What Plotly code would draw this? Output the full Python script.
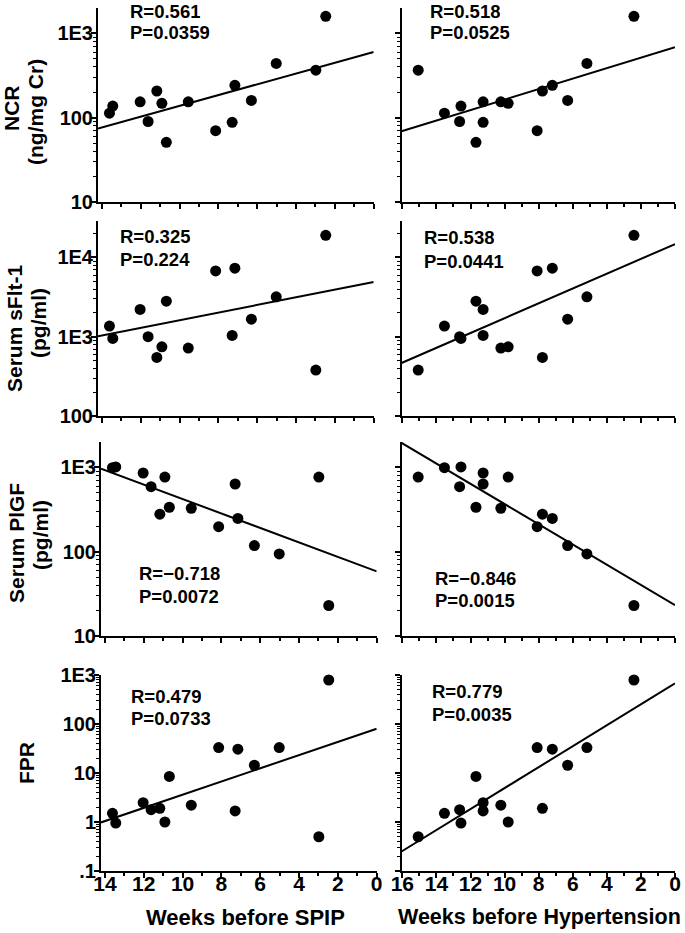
import plotly.graph_objects as go

# ---------------- data ----------------
# one entry per patient
weeks_spip = [13.61, 13.44, 12.03, 11.62, 11.17, 10.91, 10.68, 9.55, 8.14, 7.29, 7.15, 6.30, 5.02, 2.98, 2.47]
weeks_htn = [13.53, 12.56, 11.26, 12.64, 7.78, 9.79, 11.68, 10.22, 8.09, 11.26, 7.20, 6.30, 5.17, 15.07, 2.41]
ncr = [113, 137, 154, 90, 207, 148, 51, 154, 70, 88, 242, 160, 439, 365, 1590]
sflt = [1361, 951, 2209, 1000, 548, 746, 2811, 719, 6771, 1038, 7320, 1667, 3183, 380, 19050]
plgf = [990, 1010, 856, 589, 278, 767, 336, 327, 198, 634, 248, 118, 94, 767, 23]
fpr = [1.50, 0.95, 2.48, 1.78, 1.90, 1.00, 8.5, 2.2, 33.0, 1.68, 30.6, 14.4, 33.0, 0.50, 791]

row_titles = [["NCR", "(ng/mg Cr)"], ["Serum sFlt-1", "(pg/ml)"], ["Serum PlGF", "(pg/ml)"], ["FPR"]]
x_titles = ["Weeks before SPIP", "Weeks before Hypertension"]

r_spip = ["R=0.561", "R=0.325", "R=\u22120.718", "R=0.479"]
p_spip = ["P=0.0359", "P=0.224", "P=0.0072", "P=0.0733"]
r_htn = ["R=0.518", "R=0.538", "R=\u22120.846", "R=0.779"]
p_htn = ["P=0.0525", "P=0.0441", "P=0.0015", "P=0.0035"]

# regression line values at the start (earliest week) and at week 0
fit_spip_start = [74.5, 1014, 966, 0.98]
fit_spip_end = [601, 4890, 58.3, 80.2]
fit_htn_start = [69, 466, 1950, 0.25]
fit_htn_end = [682, 14750, 23.2, 676]

y_ranges = [[1, 3.3], [2, 4.46], [1, 3.3], [-1, 3]]
y_tickvals = [[10, 100, 1000], [100, 1000, 10000], [10, 100, 1000], [0.1, 1, 10, 100, 1000]]
y_ticktext = [["10", "100", "1E3"], ["100", "1E3", "1E4"], ["10", "100", "1E3"], [".1", "1", "10", "100", "1E3"]]
x_ticks = [0, 2, 4, 6, 8, 10, 12, 14, 16]

# ---------------- layout geometry (pixels) ----------------
W, H = 685, 933
FONT = "Liberation Sans, Arial, Helvetica, sans-serif"


def px_x(v):
    return v / W


def px_y(v):
    return 1 - v / H


row_px = [(8, 202), (221, 416), (442, 636), (675, 871)]
col_px = [[(98, 373.7), (98, 373.7), (101, 376.7), (101, 376.7)],
          [(401.5, 675)] * 4]
x_ranges = [[14.2, 0], [16.05, 0]]

series = [ncr, sflt, plgf, fpr]
weeks = [weeks_spip, weeks_htn]
fit_start = [fit_spip_start, fit_htn_start]
fit_end = [fit_spip_end, fit_htn_end]
r_txt = [r_spip, r_htn]
p_txt = [p_spip, p_htn]

fig = go.Figure()
layout = dict(
    width=W, height=H, margin=dict(l=0, r=0, t=0, b=0, autoexpand=False),
    paper_bgcolor="white", plot_bgcolor="white", showlegend=False,
    font=dict(family=FONT, color="black"),
)
annotations = []

# positions of stats text: (left x, R centre y, P centre y)
stat_pos = [
    [(128, 11, 32.5), (428, 11, 32.5)],
    [(118, 236, 259), (422, 237, 261)],
    [(137, 573, 596), (433, 578, 600)],
    [(129, 696, 718), (430, 691, 714)],
]

for r in range(4):
    for c in range(2):
        idx = r * 2 + c + 1
        xa = "x" if idx == 1 else f"x{idx}"
        ya = "y" if idx == 1 else f"y{idx}"
        x0, x1 = col_px[c][r]
        y0, y1 = row_px[r]
        fig.add_trace(go.Scatter(
            x=weeks[c], y=series[r], mode="markers", xaxis=xa, yaxis=ya,
            marker=dict(size=11, color="black"), hoverinfo="skip", cliponaxis=False))
        fig.add_trace(go.Scatter(
            x=[x_ranges[c][0], x_ranges[c][1]], y=[fit_start[c][r], fit_end[c][r]],
            mode="lines", xaxis=xa, yaxis=ya,
            line=dict(color="black", width=2), hoverinfo="skip"))
        layout["xaxis" if idx == 1 else f"xaxis{idx}"] = dict(
            domain=[px_x(x0), px_x(x1)], anchor=ya, range=x_ranges[c], automargin=False,
            showline=True, linewidth=2, linecolor="black",
            ticks="outside", ticklen=5, tickwidth=1.5, tickcolor="black",
            tickmode="array", tickvals=x_ticks, ticktext=[str(v) for v in x_ticks],
            minor=dict(ticks="outside", ticklen=3, tickwidth=1.5, tickcolor="black",
                       dtick=1, tick0=0, showgrid=False),
            showgrid=False, zeroline=False, showticklabels=(r == 3),
            ticklabelstandoff=-12,
            tickfont=dict(size=21, family=FONT, color="black", weight="bold"),
            fixedrange=True,
        )
        layout["yaxis" if idx == 1 else f"yaxis{idx}"] = dict(
            domain=[px_y(y1), px_y(y0)], anchor=xa, type="log", range=y_ranges[r], automargin=False,
            showline=True, linewidth=2, linecolor="black",
            ticks="outside", ticklen=5, tickwidth=1.5, tickcolor="black",
            tickmode="array", tickvals=y_tickvals[r], ticktext=y_ticktext[r],
            minor=dict(ticks="outside", ticklen=3, tickwidth=1, tickcolor="black",
                       dtick="D1", showgrid=False),
            showgrid=False, zeroline=False, showticklabels=(c == 0),
            ticklabelstandoff=-6,
            tickfont=dict(size=20, family=FONT, color="black", weight="bold"),
            fixedrange=True,
        )
        sx, ry, py = stat_pos[r][c]
        for txt, yy in ((r_txt[c][r], ry), (p_txt[c][r], py)):
            annotations.append(dict(
                text=txt, xref="paper", yref="paper", x=px_x(sx), y=px_y(yy),
                xanchor="left", yanchor="middle", showarrow=False, height=18,
                font=dict(size=18.5, family=FONT, color="black", weight="bold")))

# y-axis titles (rotated)
ytitle_pos = [[(12, 108), (36, 112)], [(14, 328), (38, 323)], [(16, 543), (40, 535)], [(26, 763)]]
for r in range(4):
    for txt, (tx, ty) in zip(row_titles[r], ytitle_pos[r]):
        annotations.append(dict(
            text=txt, xref="paper", yref="paper", x=px_x(tx), y=px_y(ty),
            xanchor="center", yanchor="middle", textangle=-90, showarrow=False,
            font=dict(size=21, family=FONT, color="black", weight="bold")))

# x-axis titles
for txt, cx, fs in zip(x_titles, [245, 539], [22, 21.5]):
    annotations.append(dict(
        text=txt, xref="paper", yref="paper", x=px_x(cx), y=px_y(917),
        xanchor="center", yanchor="middle", showarrow=False,
        font=dict(size=fs, family=FONT, color="black", weight="bold")))

layout["annotations"] = annotations
fig.update_layout(**layout)
fig.write_html("out.html", config={"displayModeBar": False},
               post_script="document.body.style.margin='0';document.body.style.overflow='hidden';")
